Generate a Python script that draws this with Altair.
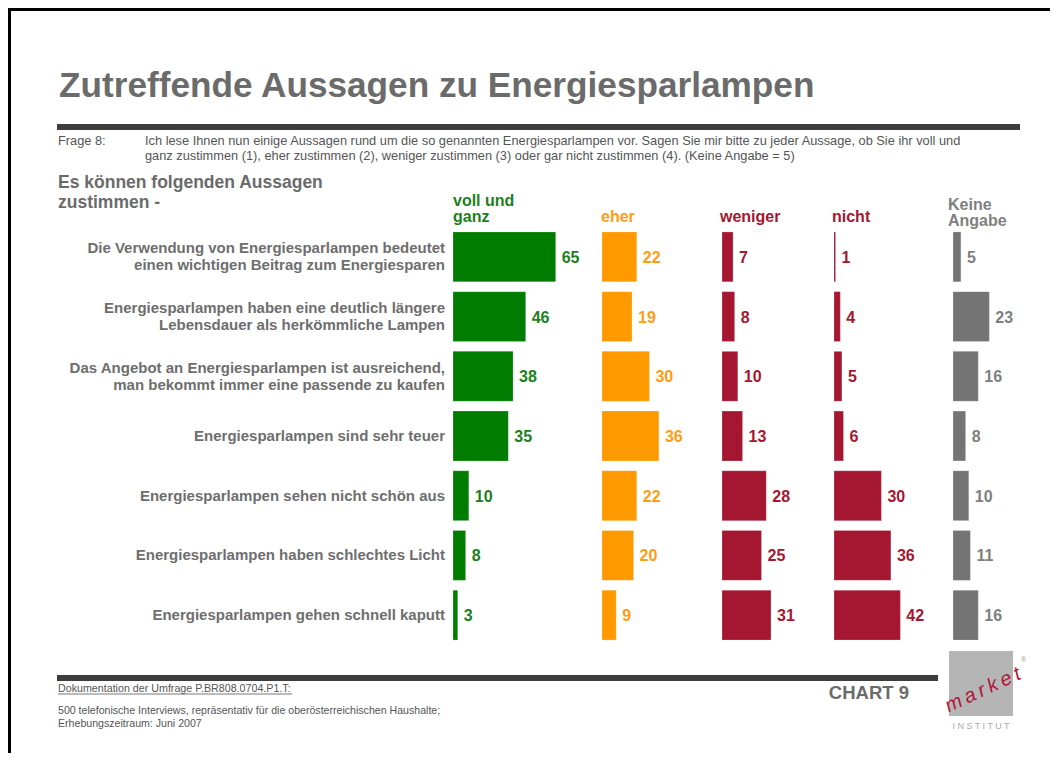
import altair as alt
import pandas as pd

# ---------------- data ----------------
statements = [
    "Die Verwendung von Energiesparlampen bedeutet\neinen wichtigen Beitrag zum Energiesparen",
    "Energiesparlampen haben eine deutlich längere\nLebensdauer als herkömmliche Lampen",
    "Das Angebot an Energiesparlampen ist ausreichend,\nman bekommt immer eine passende zu kaufen",
    "Energiesparlampen sind sehr teuer",
    "Energiesparlampen sehen nicht schön aus",
    "Energiesparlampen haben schlechtes Licht",
    "Energiesparlampen gehen schnell kaputt",
]
voll_und_ganz = [65, 46, 38, 35, 10, 8, 3]
eher = [22, 19, 30, 36, 22, 20, 9]
weniger = [7, 8, 10, 13, 28, 25, 31]
nicht = [1, 4, 5, 6, 30, 36, 42]
keine_angabe = [5, 23, 16, 8, 10, 11, 16]

categories = ["voll und ganz", "eher", "weniger", "nicht", "Keine Angabe"]
series = [voll_und_ganz, eher, weniger, nicht, keine_angabe]
headers = ["voll und\nganz", "eher", "weniger", "nicht", "Keine\nAngabe"]

# ---------------- styles / layout ----------------
FONT = "Liberation Sans"
bar_colors = ["#007d00", "#ff9900", "#a51731", "#a51731", "#747474"]
text_colors = ["#1c7f1c", "#ff9c12", "#a51731", "#a51731", "#7f7f7f"]
col_start = [453, 602, 722, 834, 953]          # page px where each column starts
header_pos = [(453, 206), (601, 222), (720, 222), (832, 222), (948, 210)]
PX_PER_UNIT = 1.58
OFF = 8  # page margin
LABEL_LH = 17


def P(v):
    return v - OFF


rows = []
for cat, vals in zip(categories, series):
    for s, v in zip(statements, vals):
        rows.append({"statement": s, "category": cat, "value": v})
df = pd.DataFrame(rows)
df_st = pd.DataFrame({"statement": statements,
                      "lines": [s.count("\n") + 1 for s in statements]})
one = pd.DataFrame({"a": [0]})

y_enc = alt.Y(
    "statement:N",
    sort=statements,
    axis=None,
    scale=alt.Scale(range=[P(227), P(645)], paddingInner=0.165, paddingOuter=0.0825),
)


def txt(s, x, y, size, color, weight="normal", align="left", baseline="alphabetic",
        style=None, angle=None, lh=None):
    kw = dict(text=s, font=FONT, fontSize=size, color=color, fontWeight=weight,
              align=align, baseline=baseline)
    if style:
        kw["fontStyle"] = style
    if angle is not None:
        kw["angle"] = angle
    if "\n" in s:
        kw["lineBreak"] = "\n"
        kw["lineHeight"] = lh or size
    return alt.Chart(one).mark_text(**kw).encode(x=alt.value(P(x)), y=alt.value(P(y)))


def rule(x1, x2, y, w, color):
    return alt.Chart(one).mark_rule(color=color, strokeWidth=w).encode(
        x=alt.value(P(x1)), x2=alt.value(P(x2)), y=alt.value(P(y)))


def vrule(x, y1, y2, w, color):
    return alt.Chart(one).mark_rule(color=color, strokeWidth=w).encode(
        x=alt.value(P(x)), y=alt.value(P(y1)), y2=alt.value(P(y2)))


layers = []

# slide border (top + left)
layers.append(rule(8, 1050, 9.5, 3, "#000000"))
layers.append(vrule(9.5, 8, 753, 3, "#000000"))

# title + header rule
layers.append(txt("Zutreffende Aussagen zu Energiesparlampen", 59, 97, 35.2, "#6b6b6b", "bold"))
layers.append(rule(57, 1020, 127, 6, "#3d3d3d"))

# question
layers.append(txt("Frage 8:", 58, 145, 12.8, "#555555"))
layers.append(txt("Ich lese Ihnen nun einige Aussagen rund um die so genannten Energiesparlampen vor. "
                  "Sagen Sie mir bitte zu jeder Aussage, ob Sie ihr voll und", 145, 145, 12.8, "#555555"))
layers.append(txt("ganz zustimmen (1), eher zustimmen (2), weniger zustimmen (3) oder gar nicht "
                  "zustimmen (4). (Keine Angabe = 5)", 145, 160, 12.8, "#555555"))

layers.append(txt("Es können folgenden Aussagen\nzustimmen -", 58, 188, 17.5, "#6b6b6b", "bold", lh=20))

# column headers
for h, (hx, hy), c in zip(headers, header_pos, text_colors):
    layers.append(txt(h, hx, hy, 16, c, "bold", lh=16))

# statement labels (one layer per line count, so that each block is centred on its row)
for n in sorted(set(df_st["lines"])):
    layers.append(
        alt.Chart(df_st).transform_filter(alt.datum.lines == n).mark_text(
            font=FONT, fontSize=15, fontWeight="bold", color="#6e6e6e", align="right",
            baseline="middle", lineBreak="\n", lineHeight=LABEL_LH,
            dy=-(n - 1) * LABEL_LH / 2,
        ).encode(y=y_enc, x=alt.value(P(445)), text="statement:N")
    )

# bars + values, each column with its own x scale
for cat, x0, bc, tc in zip(categories, col_start, bar_colors, text_colors):
    xs = alt.Scale(domain=[0, 100], range=[P(x0), P(x0) + 100 * PX_PER_UNIT])
    base = alt.Chart(df).transform_filter(alt.datum.category == cat)
    layers.append(
        base.mark_bar(color=bc, stroke="#ffffff", strokeOpacity=0.35, strokeWidth=0.6).encode(
            x=alt.X("value:Q", scale=xs, axis=None), y=y_enc)
    )
    layers.append(
        base.mark_text(font=FONT, fontSize=16, fontWeight="bold", color=tc, align="left",
                       baseline="middle", dx=6, dy=1).encode(
            x=alt.X("value:Q", scale=xs, axis=None), y=y_enc, text="value:Q")
    )

# footer
layers.append(rule(57, 938, 678, 6, "#3d3d3d"))
layers.append(txt("Dokumentation der Umfrage P.BR808.0704.P1.T:", 58, 692, 10.7, "#555555"))
layers.append(rule(58, 292, 694, 0.8, "#555555"))
layers.append(txt("CHART 9", 909, 699, 18.5, "#6b6b6b", "bold", align="right"))
layers.append(txt("500 telefonische Interviews, repräsentativ für die oberösterreichischen Haushalte;",
                  58, 714, 10.6, "#555555"))
layers.append(txt("Erhebungszeitraum: Juni 2007", 58, 727, 10.6, "#555555"))

# logo
layers.append(alt.Chart(one).mark_rect(color="#b5b5b5").encode(
    x=alt.value(P(949)), x2=alt.value(P(1013)), y=alt.value(P(651)), y2=alt.value(P(716))))
layers.append(txt("m\u2009a\u2009r\u2009k\u2009e\u2009t", 983, 690, 20, "#b0173a", "normal",
                  align="center", baseline="middle", style="italic", angle=335))
layers.append(txt("®", 1021, 662, 7, "#999999"))
layers.append(txt("I N S T I T U T", 981, 729, 9, "#aaaaaa", align="center"))

chart = (
    alt.layer(*layers)
    .resolve_scale(x="independent")
    .properties(width=1042, height=745, padding=0,
                autosize=alt.AutoSizeParams(type="none"), background="#ffffff")
    .configure_view(stroke=None)
)

chart.save("out.html", embed_options={"renderer": "svg", "actions": False})
